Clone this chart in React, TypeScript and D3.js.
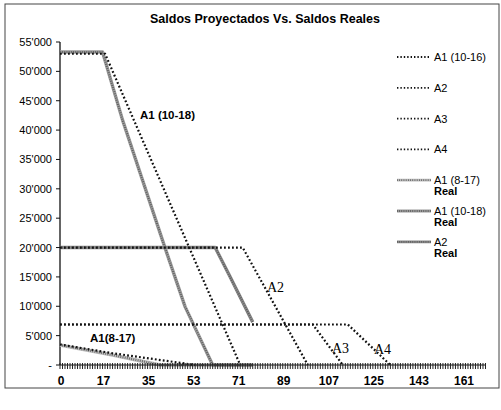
import * as d3 from 'd3'

// tick labels
const xTicks = [0, 17, 35, 53, 71, 89, 107, 125, 143, 161]
const yTicks = [0, 5000, 10000, 15000, 20000, 25000, 30000, 35000, 40000, 45000, 50000, 55000]

// projected balances (day, balance)
const projA1_10_18: [number, number][] = [[0, 53000], [18, 53000], [72, 0]]
const projA2: [number, number][] = [[0, 20000], [73, 20000], [99, 0]]
const projA3: [number, number][] = [[0, 6900], [101, 6900], [113, 0]]
const projA4: [number, number][] = [[0, 6900], [115, 6900], [132, 0]]
const projA1_8_17: [number, number][] = [[0, 3500], [21, 2000], [54, 0]]

// real balances
const realA1_8_17: [number, number][] = [[0, 3400], [10, 2600], [21, 1700], [30, 900], [40, 0], [77, 0]]
const realA1_10_18: [number, number][] = [
  [0, 53300], [17, 53300], [25, 41700], [42, 19900], [50, 9900], [61, 0], [77, 0],
]
const realA2: [number, number][] = [[0, 20000], [62, 20000], [68, 15000], [77, 7300]]

const legendItems = [
  { lines: ['A1 (10-16)'], kind: 'proj', color: '#111' },
  { lines: ['A2'], kind: 'proj', color: '#111' },
  { lines: ['A3'], kind: 'proj', color: '#111' },
  { lines: ['A4'], kind: 'proj', color: '#111' },
  { lines: ['A1 (8-17)', 'Real'], kind: 'real', color: '#bbb' },
  { lines: ['A1 (10-18)', 'Real'], kind: 'real', color: '#999' },
  { lines: ['A2', 'Real'], kind: 'real', color: '#888' },
]

const sans = 'Liberation Sans, Arial, sans-serif'
const serif = 'Liberation Serif, Times New Roman, serif'

export default function App() {
  const x = d3.scaleLinear().domain([0, 170]).range([60, 485.5])
  const y = d3.scaleLinear().domain([0, 55000]).range([365, 42])
  const line = d3
    .line<[number, number]>()
    .x((d) => x(d[0]))
    .y((d) => y(d[1]))

  const fmt = (v: number) => (v === 0 ? '-' : d3.format(',')(v).replace(/,/g, "'"))

  const projected = [projA1_10_18, projA2, projA3, projA4, projA1_8_17]
  const reals = [
    { data: realA1_8_17, color: '#bbb' },
    { data: realA1_10_18, color: '#999' },
    { data: realA2, color: '#888' },
  ]

  const minor = d3.range(0, 171, 1)

  return (
    <svg
      width={501}
      height={410}
      style={{ position: 'absolute', left: 0, top: 0, background: '#fff' }}
    >
      <rect x={5} y={4} width={494} height={384} fill="none" stroke="#444" strokeWidth={1} />

      <text x={265} y={23} textAnchor="middle" fontFamily={sans} fontWeight="bold" fontSize={12.5}>
        Saldos Proyectados Vs. Saldos Reales
      </text>

      {/* y axis */}
      <line x1={60} x2={60} y1={y(55000)} y2={y(0)} stroke="#111" strokeWidth={1.3} />
      {yTicks.map((t) => (
        <g key={t}>
          <line x1={56} x2={60} y1={y(t)} y2={y(t)} stroke="#111" strokeWidth={1} />
          <text x={52} y={y(t) + 4} textAnchor="end" fontFamily={sans} fontSize={11}>
            {fmt(t)}
          </text>
        </g>
      ))}

      {/* real */}
      {reals.map((r, i) => (
        <g key={i}>
          <path d={line(r.data) ?? ''} fill="none" stroke={r.color} strokeWidth={3.4} strokeLinejoin="round" />
          <path
            d={line(r.data) ?? ''}
            fill="none"
            stroke="#555"
            strokeWidth={2.2}
            strokeDasharray="0.7 1.5"
          />
        </g>
      ))}

      {/* projected */}
      {projected.map((d, i) => (
        <path
          key={i}
          d={line(d) ?? ''}
          fill="none"
          stroke="#111"
          strokeWidth={2.2}
          strokeDasharray="1.8 2.2"
        />
      ))}

      {/* x axis */}
      <line x1={x(0)} x2={x(170)} y1={y(0)} y2={y(0)} stroke="#111" strokeWidth={1.2} />
      {minor.map((t) => (
        <line key={t} x1={x(t)} x2={x(t)} y1={y(0) - 2} y2={y(0) + 4} stroke="#222" strokeWidth={1} />
      ))}
      {xTicks.map((t) => (
        <text key={t} x={x(t) + 1} y={385} textAnchor="middle" fontFamily={sans} fontWeight="bold" fontSize={12}>
          {t}
        </text>
      ))}

      {/* annotations */}
      <text x={140} y={119} fontFamily={sans} fontWeight="bold" fontSize={11.5}>A1 (10-18)</text>
      <text x={267} y={292} fontFamily={serif} fontSize={14}>A2</text>
      <text x={332} y={353} fontFamily={serif} fontSize={14}>A3</text>
      <text x={374} y={354} fontFamily={serif} fontSize={14}>A4</text>
      <text x={90} y={342} fontFamily={sans} fontWeight="bold" fontSize={11.5}>A1(8-17)</text>

      {/* legend */}
      {legendItems.map((it, i) => {
        const ly = 57 + i * 30.8
        return (
          <g key={i}>
            {it.kind === 'proj' ? (
              <line x1={397} x2={431} y1={ly} y2={ly} stroke="#111" strokeWidth={1.8} strokeDasharray="1.4 2" />
            ) : (
              <g>
                <line x1={397} x2={431} y1={ly} y2={ly} stroke={it.color} strokeWidth={2.8} />
                <line x1={397} x2={431} y1={ly} y2={ly} stroke="#555" strokeWidth={1.8} strokeDasharray="0.7 1.5" />
              </g>
            )}
            {it.lines.map((s, j) => (
              <text
                key={j}
                x={434}
                y={ly + 4 + j * 11}
                fontFamily={sans}
                fontSize={11}
                fontWeight={j === 1 ? 'bold' : 'normal'}
              >
                {s}
              </text>
            ))}
          </g>
        )
      })}
    </svg>
  )
}
